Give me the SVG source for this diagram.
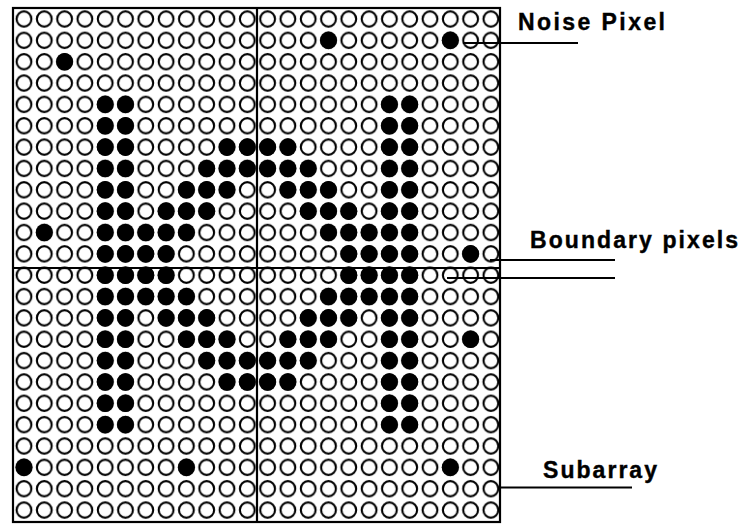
<svg xmlns="http://www.w3.org/2000/svg" xmlns:xlink="http://www.w3.org/1999/xlink" width="745" height="525" viewBox="0 0 745 525">
<style>
.lbl{font-family:"Liberation Sans",Arial,sans-serif;font-weight:bold;font-size:23px;fill:#000;stroke:#000;stroke-width:0.4}
.ln{stroke:#000;stroke-width:2;fill:none}
.frame{stroke:#000;stroke-width:2.2;fill:none}
</style>
<defs>
<pattern id="ring" patternUnits="userSpaceOnUse" x="13.85" y="8.325" width="20.3" height="21.35">
<ellipse cx="10.15" cy="10.675" rx="7.4" ry="7.7" fill="none" stroke="#000" stroke-width="2.1"/>
</pattern>
<ellipse id="d" cx="0" cy="0" rx="8.5" ry="8.8" fill="#000"/>
</defs>
<rect width="745" height="525" fill="#fff"/>
<g id="grid">
<rect x="13" y="8" width="487" height="514" fill="url(#ring)"/>
<g id="dots">
<g transform="translate(0,40.35)"><use href="#d" x="328.5"/><use href="#d" x="450.3"/></g>
<g transform="translate(0,61.7)"><use href="#d" x="64.6"/></g>
<g transform="translate(0,104.4)"><use href="#d" x="105.2"/><use href="#d" x="125.5"/><use href="#d" x="389.4"/><use href="#d" x="409.7"/></g>
<g transform="translate(0,125.75)"><use href="#d" x="105.2"/><use href="#d" x="125.5"/><use href="#d" x="389.4"/><use href="#d" x="409.7"/></g>
<g transform="translate(0,147.1)"><use href="#d" x="105.2"/><use href="#d" x="125.5"/><use href="#d" x="227"/><use href="#d" x="247.3"/><use href="#d" x="267.6"/><use href="#d" x="287.9"/><use href="#d" x="389.4"/><use href="#d" x="409.7"/></g>
<g transform="translate(0,168.45)"><use href="#d" x="105.2"/><use href="#d" x="125.5"/><use href="#d" x="206.7"/><use href="#d" x="227"/><use href="#d" x="247.3"/><use href="#d" x="267.6"/><use href="#d" x="287.9"/><use href="#d" x="308.2"/><use href="#d" x="389.4"/><use href="#d" x="409.7"/></g>
<g transform="translate(0,189.8)"><use href="#d" x="105.2"/><use href="#d" x="125.5"/><use href="#d" x="186.4"/><use href="#d" x="206.7"/><use href="#d" x="227"/><use href="#d" x="287.9"/><use href="#d" x="308.2"/><use href="#d" x="328.5"/><use href="#d" x="389.4"/><use href="#d" x="409.7"/></g>
<g transform="translate(0,211.15)"><use href="#d" x="105.2"/><use href="#d" x="125.5"/><use href="#d" x="166.1"/><use href="#d" x="186.4"/><use href="#d" x="206.7"/><use href="#d" x="308.2"/><use href="#d" x="328.5"/><use href="#d" x="348.8"/><use href="#d" x="389.4"/><use href="#d" x="409.7"/></g>
<g transform="translate(0,232.5)"><use href="#d" x="44.3"/><use href="#d" x="105.2"/><use href="#d" x="125.5"/><use href="#d" x="145.8"/><use href="#d" x="166.1"/><use href="#d" x="186.4"/><use href="#d" x="328.5"/><use href="#d" x="348.8"/><use href="#d" x="369.1"/><use href="#d" x="389.4"/><use href="#d" x="409.7"/></g>
<g transform="translate(0,253.85)"><use href="#d" x="105.2"/><use href="#d" x="125.5"/><use href="#d" x="145.8"/><use href="#d" x="166.1"/><use href="#d" x="348.8"/><use href="#d" x="369.1"/><use href="#d" x="389.4"/><use href="#d" x="409.7"/><use href="#d" x="470.6"/></g>
<g transform="translate(0,275.2)"><use href="#d" x="105.2"/><use href="#d" x="125.5"/><use href="#d" x="145.8"/><use href="#d" x="166.1"/><use href="#d" x="348.8"/><use href="#d" x="369.1"/><use href="#d" x="389.4"/><use href="#d" x="409.7"/></g>
<g transform="translate(0,296.55)"><use href="#d" x="105.2"/><use href="#d" x="125.5"/><use href="#d" x="145.8"/><use href="#d" x="166.1"/><use href="#d" x="186.4"/><use href="#d" x="328.5"/><use href="#d" x="348.8"/><use href="#d" x="369.1"/><use href="#d" x="389.4"/><use href="#d" x="409.7"/></g>
<g transform="translate(0,317.9)"><use href="#d" x="105.2"/><use href="#d" x="125.5"/><use href="#d" x="166.1"/><use href="#d" x="186.4"/><use href="#d" x="206.7"/><use href="#d" x="308.2"/><use href="#d" x="328.5"/><use href="#d" x="348.8"/><use href="#d" x="389.4"/><use href="#d" x="409.7"/></g>
<g transform="translate(0,339.25)"><use href="#d" x="105.2"/><use href="#d" x="125.5"/><use href="#d" x="186.4"/><use href="#d" x="206.7"/><use href="#d" x="227"/><use href="#d" x="287.9"/><use href="#d" x="308.2"/><use href="#d" x="328.5"/><use href="#d" x="389.4"/><use href="#d" x="409.7"/><use href="#d" x="470.6"/></g>
<g transform="translate(0,360.6)"><use href="#d" x="105.2"/><use href="#d" x="125.5"/><use href="#d" x="206.7"/><use href="#d" x="227"/><use href="#d" x="247.3"/><use href="#d" x="267.6"/><use href="#d" x="287.9"/><use href="#d" x="308.2"/><use href="#d" x="389.4"/><use href="#d" x="409.7"/></g>
<g transform="translate(0,381.95)"><use href="#d" x="105.2"/><use href="#d" x="125.5"/><use href="#d" x="227"/><use href="#d" x="247.3"/><use href="#d" x="267.6"/><use href="#d" x="287.9"/><use href="#d" x="389.4"/><use href="#d" x="409.7"/></g>
<g transform="translate(0,403.3)"><use href="#d" x="105.2"/><use href="#d" x="125.5"/><use href="#d" x="389.4"/><use href="#d" x="409.7"/></g>
<g transform="translate(0,424.65)"><use href="#d" x="105.2"/><use href="#d" x="125.5"/><use href="#d" x="389.4"/><use href="#d" x="409.7"/></g>
<g transform="translate(0,467.35)"><use href="#d" x="24"/><use href="#d" x="186.4"/><use href="#d" x="450.3"/></g>
</g>
<rect class="frame" x="13" y="8" width="487" height="514"/>
<line class="frame" x1="257" y1="8" x2="257" y2="522"/>
<line class="frame" x1="13" y1="268" x2="500" y2="268"/>
</g>
<g id="connectors">
<line class="ln" x1="463" y1="43" x2="578" y2="43"/>
<line class="ln" x1="490" y1="260" x2="615" y2="260"/>
<line class="ln" x1="447" y1="278" x2="615" y2="278"/>
<line class="ln" x1="499" y1="487.5" x2="632" y2="487.5"/>
</g>
<g id="label-noise"><text class="lbl" x="518" y="30" textLength="147" lengthAdjust="spacing">Noise Pixel</text></g>
<g id="label-boundary"><text class="lbl" x="530" y="248" textLength="208" lengthAdjust="spacing">Boundary pixels</text></g>
<g id="label-subarray"><text class="lbl" x="543" y="478" textLength="114" lengthAdjust="spacing">Subarray</text></g>
</svg>
